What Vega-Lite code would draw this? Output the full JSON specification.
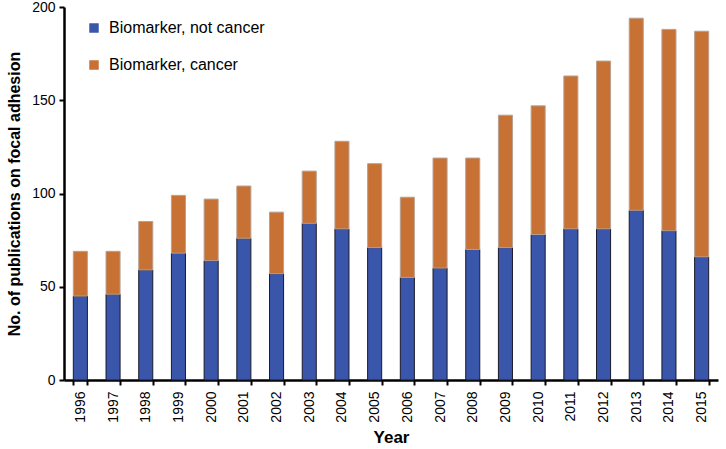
{
  "$schema": "https://vega.github.io/schema/vega-lite/v6.json",
  "autosize": "none",
  "padding": {"left": 64, "top": 7, "right": 8, "bottom": 69},
  "width": 654,
  "height": 373,
  "background": "white",
  "config": {
    "font": "Liberation Sans",
    "view": {"stroke": null}
  },
  "data": {
    "values": [
      {"year": "1996", "series": "Biomarker, not cancer", "count": 45, "rank": 1},
      {"year": "1996", "series": "Biomarker, cancer", "count": 24, "rank": 2},
      {"year": "1997", "series": "Biomarker, not cancer", "count": 46, "rank": 1},
      {"year": "1997", "series": "Biomarker, cancer", "count": 23, "rank": 2},
      {"year": "1998", "series": "Biomarker, not cancer", "count": 59, "rank": 1},
      {"year": "1998", "series": "Biomarker, cancer", "count": 26, "rank": 2},
      {"year": "1999", "series": "Biomarker, not cancer", "count": 68, "rank": 1},
      {"year": "1999", "series": "Biomarker, cancer", "count": 31, "rank": 2},
      {"year": "2000", "series": "Biomarker, not cancer", "count": 64, "rank": 1},
      {"year": "2000", "series": "Biomarker, cancer", "count": 33, "rank": 2},
      {"year": "2001", "series": "Biomarker, not cancer", "count": 76, "rank": 1},
      {"year": "2001", "series": "Biomarker, cancer", "count": 28, "rank": 2},
      {"year": "2002", "series": "Biomarker, not cancer", "count": 57, "rank": 1},
      {"year": "2002", "series": "Biomarker, cancer", "count": 33, "rank": 2},
      {"year": "2003", "series": "Biomarker, not cancer", "count": 84, "rank": 1},
      {"year": "2003", "series": "Biomarker, cancer", "count": 28, "rank": 2},
      {"year": "2004", "series": "Biomarker, not cancer", "count": 81, "rank": 1},
      {"year": "2004", "series": "Biomarker, cancer", "count": 47, "rank": 2},
      {"year": "2005", "series": "Biomarker, not cancer", "count": 71, "rank": 1},
      {"year": "2005", "series": "Biomarker, cancer", "count": 45, "rank": 2},
      {"year": "2006", "series": "Biomarker, not cancer", "count": 55, "rank": 1},
      {"year": "2006", "series": "Biomarker, cancer", "count": 43, "rank": 2},
      {"year": "2007", "series": "Biomarker, not cancer", "count": 60, "rank": 1},
      {"year": "2007", "series": "Biomarker, cancer", "count": 59, "rank": 2},
      {"year": "2008", "series": "Biomarker, not cancer", "count": 70, "rank": 1},
      {"year": "2008", "series": "Biomarker, cancer", "count": 49, "rank": 2},
      {"year": "2009", "series": "Biomarker, not cancer", "count": 71, "rank": 1},
      {"year": "2009", "series": "Biomarker, cancer", "count": 71, "rank": 2},
      {"year": "2010", "series": "Biomarker, not cancer", "count": 78, "rank": 1},
      {"year": "2010", "series": "Biomarker, cancer", "count": 69, "rank": 2},
      {"year": "2011", "series": "Biomarker, not cancer", "count": 81, "rank": 1},
      {"year": "2011", "series": "Biomarker, cancer", "count": 82, "rank": 2},
      {"year": "2012", "series": "Biomarker, not cancer", "count": 81, "rank": 1},
      {"year": "2012", "series": "Biomarker, cancer", "count": 90, "rank": 2},
      {"year": "2013", "series": "Biomarker, not cancer", "count": 91, "rank": 1},
      {"year": "2013", "series": "Biomarker, cancer", "count": 103, "rank": 2},
      {"year": "2014", "series": "Biomarker, not cancer", "count": 80, "rank": 1},
      {"year": "2014", "series": "Biomarker, cancer", "count": 108, "rank": 2},
      {"year": "2015", "series": "Biomarker, not cancer", "count": 66, "rank": 1},
      {"year": "2015", "series": "Biomarker, cancer", "count": 121, "rank": 2}
    ]
  },
  "mark": {"type": "bar", "strokeWidth": 1},
  "encoding": {
    "x": {
      "field": "year",
      "type": "nominal",
      "scale": {"paddingInner": 0.57, "paddingOuter": 0.285},
      "axis": {
        "title": "Year",
        "titleFontSize": 17,
        "titleFontWeight": "bold",
        "titleColor": "black",
        "titlePadding": 7,
        "labelAngle": -90,
        "labelFontSize": 14,
        "labelColor": "black",
        "labelPadding": 6,
        "tickBand": "extent",
        "domainColor": "black",
        "domainWidth": 2.5,
        "tickColor": "black",
        "tickWidth": 2,
        "tickSize": 5
      }
    },
    "y": {
      "field": "count",
      "type": "quantitative",
      "stack": "zero",
      "scale": {"domain": [0, 200], "nice": false},
      "axis": {
        "title": "No. of publications on focal adhesion",
        "titleFontSize": 16,
        "titleFontWeight": "bold",
        "titleColor": "black",
        "titlePadding": 9,
        "values": [0, 50, 100, 150, 200],
        "labelFontSize": 14,
        "labelColor": "black",
        "labelPadding": 4,
        "grid": false,
        "domainColor": "black",
        "domainWidth": 2.5,
        "tickColor": "black",
        "tickWidth": 2,
        "tickSize": 5
      }
    },
    "color": {
      "field": "series",
      "type": "nominal",
      "scale": {
        "domain": ["Biomarker, not cancer", "Biomarker, cancer"],
        "range": ["#3A56AA", "#C87135"]
      },
      "legend": {
        "title": null,
        "orient": "none",
        "legendX": 22,
        "legendY": 13,
        "labelFontSize": 16,
        "labelColor": "black",
        "symbolType": "square",
        "symbolSize": 90,
        "symbolStrokeWidth": 0,
        "rowPadding": 21,
        "labelOffset": 7
      }
    },
    "stroke": {
      "field": "series",
      "type": "nominal",
      "scale": {
        "domain": ["Biomarker, not cancer", "Biomarker, cancer"],
        "range": ["#1a1a2a", "#b8a090"]
      },
      "legend": null
    },
    "order": {"field": "rank", "type": "quantitative", "sort": "ascending"}
  }
}
